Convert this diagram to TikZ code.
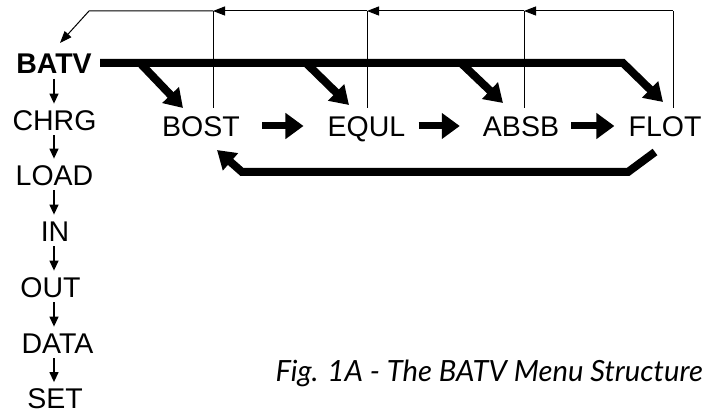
\documentclass[tikz,border=0pt]{standalone}
\usepackage{fontspec}
\setmainfont{Liberation Sans}
\newfontfamily\capfont{Lato}
\usetikzlibrary{arrows.meta}
\begin{document}
\begin{tikzpicture}[x=1pt,y=-1pt,
  lbl/.style={inner sep=0pt, text height=20.4pt, text depth=0pt, font=\fontsize{28.5}{30}\selectfont},
  thk/.style={line width=8pt, line join=miter},
  bigtip/.style={-{Triangle[length=18pt,width=22pt]}},
  harrow/.style={line width=7pt, -{Triangle[length=18pt,width=25pt]}},
  fb/.style={line width=1pt, -{Triangle[length=12pt,width=9pt]}},
  fbplain/.style={line width=1pt},
  vline/.style={line width=1.3pt, -{Triangle[length=10pt,width=9pt]}}]
\useasboundingbox (0,0) rectangle (712,414);
% menu column
\node[lbl, font=\fontsize{28.5}{30}\selectfont\bfseries] (batv) at (54,63.5) {BATV};
\node[lbl] (chrg) at (54.5,120) {CHRG};
\node[lbl] (load) at (54.5,175) {LOAD};
\node[lbl] (in) at (55,231) {IN};
\node[lbl] (out) at (50.5,287) {OUT};
\node[lbl] (data) at (57.5,343) {DATA};
\node[lbl] (set) at (55,398.5) {SET};
\coordinate (ax) at (54,0);
\foreach \a/\b in {batv/chrg, chrg/load, load/in, in/out, out/data, data/set}
  \draw[vline, shorten <=5pt, shorten >=6pt] (\a.south -| ax) -- (\b.north -| ax);
% state row
\node[lbl] (bost) at (201,126) {BOST};
\node[lbl] (equl) at (366.5,126) {EQUL};
\node[lbl] (absb) at (521,126) {ABSB};
\node[lbl] (flot) at (665,126) {FLOT};
% horizontal arrows
\draw[harrow, shorten <=22pt, shorten >=24pt] (bost.east) -- (equl.west);
\draw[harrow, shorten <=13pt, shorten >=23pt] (equl.east) -- (absb.west);
\draw[harrow, shorten <=12pt, shorten >=14pt] (absb.east) -- (flot.west);
% thick line from BATV
\coordinate (s0) at (100,63);
\coordinate (s1) at (623,63);
\coordinate (tf) at (663,102);
\draw[thk, bigtip] (s0) -- (s1) -- (tf);
\coordinate (c1) at (140,63); \coordinate (tb) at (183,108);
\coordinate (c2) at (306,63); \coordinate (te) at (349,105);
\coordinate (c3) at (461,63); \coordinate (ta) at (503,103);
\draw[thk, bigtip] (c1) -- (tb);
\draw[thk, bigtip] (c2) -- (te);
\draw[thk, bigtip] (c3) -- (ta);
% return arrow
\coordinate (r0) at (655,152);
\coordinate (r1) at (628,172);
\coordinate (r2) at (242,172);
\coordinate (rt) at (217,150);
\draw[thk, bigtip] (r0) -- (r1) -- (r2) -- (rt);
% feedback lines
\coordinate (vb) at (213,108); \coordinate (t1) at (213,11);
\coordinate (ve) at (367,108); \coordinate (t2) at (367,11);
\coordinate (va) at (524,108); \coordinate (t3) at (524,11);
\coordinate (vf) at (673,108); \coordinate (t4) at (673,11);
\coordinate (t0) at (89,11);
\coordinate (bt) at (60,43);
\draw[fbplain] (vb) -- (t1);
\draw[fbplain] (ve) -- (t2);
\draw[fbplain] (va) -- (t3);
\draw[fbplain] (vf) -- (t4);
\draw[fb] (t4) -- (t3);
\draw[fb] (t3) -- (t2);
\draw[fb] (t2) -- (t1);
\draw[fb] (t1) -- (t0) -- (bt);
% caption
\node[anchor=base east, inner sep=0pt, font=\capfont\itshape\fontsize{29.2}{32}\selectfont] (cap) at (703,381) {Fig. 1A - The BATV Menu Structure};
\end{tikzpicture}
\end{document}
